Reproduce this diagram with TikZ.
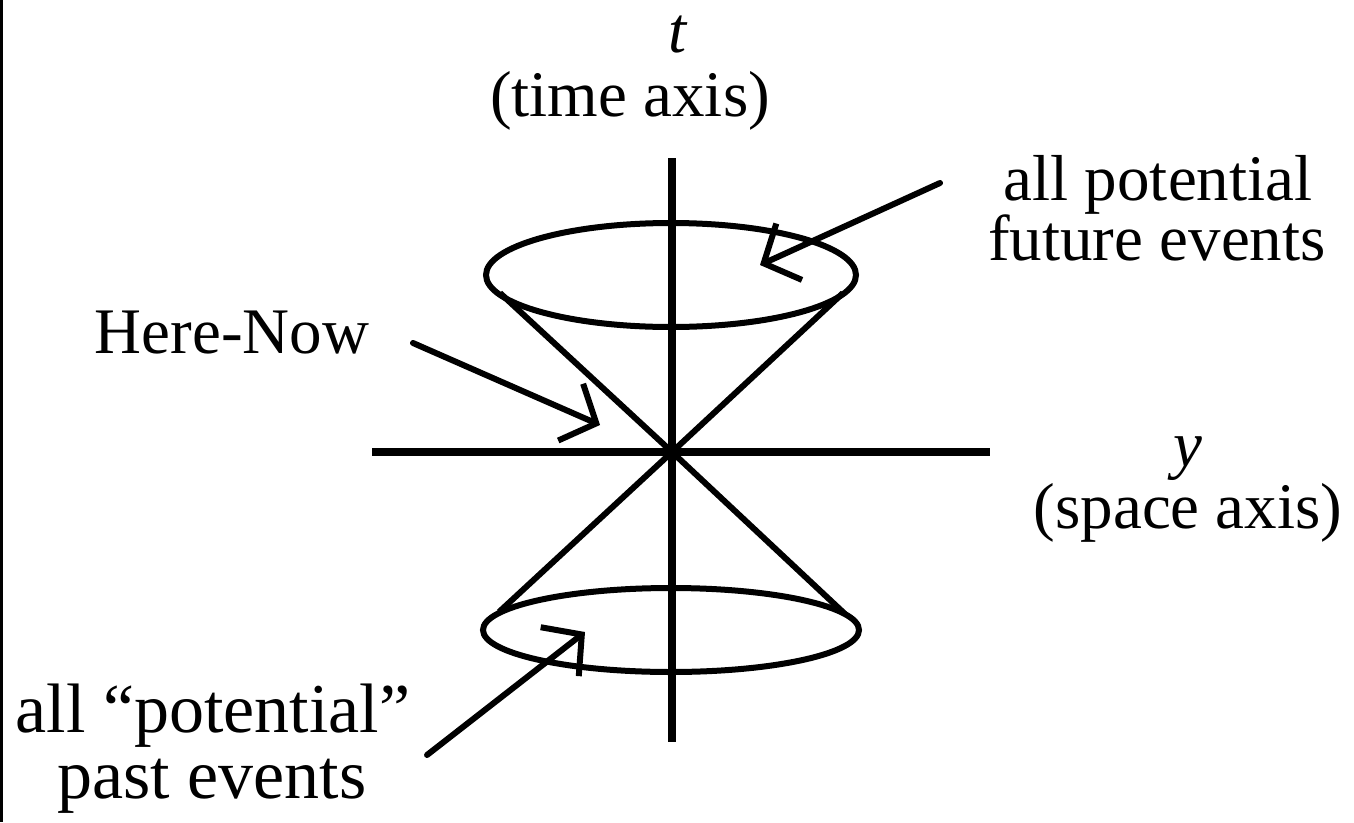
\documentclass[tikz,border=0pt]{standalone}
\usepackage{fontspec}
\setmainfont{Liberation Serif}
\usetikzlibrary{arrows.meta}
\begin{document}
\begin{tikzpicture}[x=1pt,y=-1pt,
  lbl/.style={inner sep=0pt, anchor=base, font=\fontsize{65}{63}\selectfont},
  biglbl/.style={inner sep=0pt, anchor=base, font=\fontsize{70}{68}\selectfont},
  varlbl/.style={inner sep=0pt, anchor=base, font=\fontsize{65}{63}\selectfont\itshape},
  axisline/.style={line width=8.5pt},
  coneline/.style={line width=6pt},
  pointer/.style={line width=6pt, line cap=round, -{Straight Barb[length=28pt,width=62pt]}},
]
\useasboundingbox (0,0) rectangle (1354,822);
\fill[white] (0,0) rectangle (1354,822);
\draw[line width=3pt] (1.5,0) -- (1.5,822);

% axes
\coordinate (O) at (672,452);
\coordinate (tTop) at (672,158);
\coordinate (tBot) at (672,742);
\coordinate (yL) at (372,452);
\coordinate (yR) at (990,452);
\draw[axisline] (tTop) -- (tBot);
\draw[axisline] (yL) -- (yR);

% cones
\coordinate (fc) at (671,275);
\coordinate (pc) at (671,630);
\draw[coneline] (fc) ellipse [x radius=185pt, y radius=52pt];
\draw[coneline] (pc) ellipse [x radius=188pt, y radius=42pt];
\coordinate (ful) at (500,293);
\coordinate (fur) at (843,293);
\coordinate (pal) at (499,612);
\coordinate (par) at (845,614);
\draw[coneline] (ful) -- (O) -- (par);
\draw[coneline] (fur) -- (O) -- (pal);

% labels
\node[varlbl] (t) at (678,52) {t};
\node[lbl] (tlab) at (630,116) {(time axis)};
\node[lbl] (fa) at (1158,200) {all potential};
\node[lbl] (fb) at (1157,260) {future events};
\node[lbl] (hn) at (232,353) {Here-Now};
\node[varlbl] (y) at (1188,466) {y};
\node[lbl] (ylab) at (1188,528) {(space axis)};
\node[biglbl] (pa) at (213,732) {all “potential”};
\node[biglbl] (pb) at (212,798) {past events};

% pointers
\coordinate (hnS) at (413,343);
\coordinate (hnT) at (600,425);
\coordinate (fS) at (940,183);
\coordinate (fT) at (760,265);
\coordinate (pS) at (427,755);
\coordinate (pT) at (585,632);
\draw[pointer] (hnS) -- (hnT);
\draw[pointer] (fS) -- (fT);
\draw[pointer] (pS) -- (pT);
\end{tikzpicture}
\end{document}
